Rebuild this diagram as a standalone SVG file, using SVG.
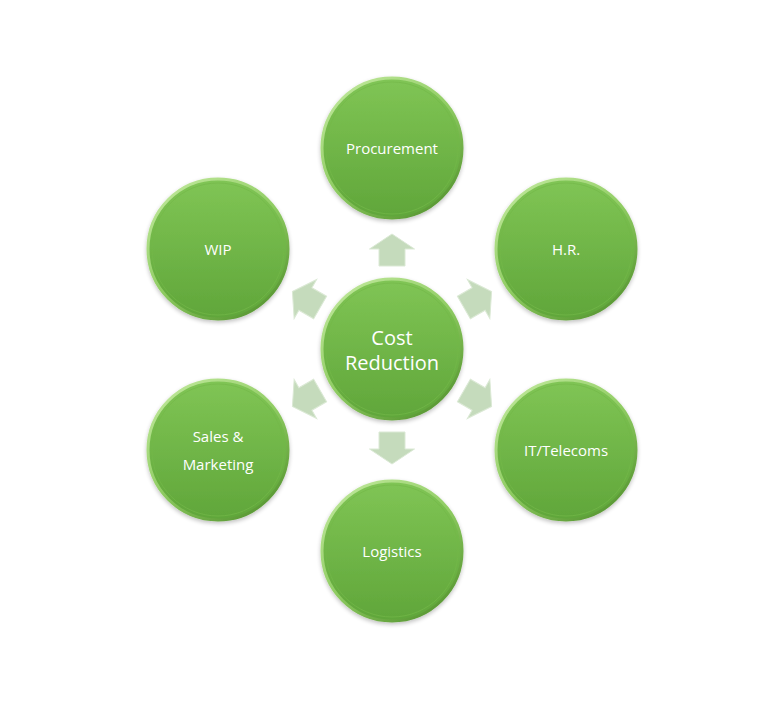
<svg xmlns="http://www.w3.org/2000/svg" width="759" height="726" viewBox="0 0 759 726">
<defs>
<linearGradient id="fillG" x1="0" y1="0" x2="0" y2="1">
<stop offset="0" stop-color="#80c555"/>
<stop offset="1" stop-color="#60a63a"/>
</linearGradient>
<linearGradient id="rimG" x1="0.2" y1="0.1" x2="0.8" y2="0.9">
<stop offset="0" stop-color="#b7e391"/>
<stop offset="0.5" stop-color="#8fcc62"/>
<stop offset="1" stop-color="#5d9c37"/>
</linearGradient>
<filter id="sh" x="-20%" y="-20%" width="140%" height="140%">
<feGaussianBlur in="SourceAlpha" stdDeviation="2"/>
<feOffset dx="0" dy="2"/>
<feComponentTransfer><feFuncA type="linear" slope="0.25"/></feComponentTransfer>
<feMerge><feMergeNode/><feMergeNode in="SourceGraphic"/></feMerge>
</filter>
<path id="arr" d="M0,-115 L22.5,-100 L13,-100 L13,-83 L-13,-83 L-13,-100 L-22.5,-100 Z"/>
</defs>
<style>
.disc{fill:url(#fillG);stroke:url(#rimG);stroke-width:3;filter:url(#sh)}
.inner{fill:none;stroke:#74b849;stroke-width:1;opacity:0.7}
.lbl{font-family:"Open Sans","Noto Sans",sans-serif;font-size:15px;fill:#ffffff;text-anchor:middle;dominant-baseline:central}
.big{font-size:20px}
.a{fill:#c5dbbc;stroke:#dbe9d5;stroke-width:1}
</style>
<rect width="759" height="726" fill="#ffffff"/>
<g id="connectors" transform="translate(392,349)">
<use href="#arr" class="a"/>
<use href="#arr" class="a" transform="rotate(60)"/>
<use href="#arr" class="a" transform="rotate(120)"/>
<use href="#arr" class="a" transform="rotate(180)"/>
<use href="#arr" class="a" transform="rotate(240)"/>
<use href="#arr" class="a" transform="rotate(300)"/>
</g>
<g id="center">
<circle class="disc" cx="392" cy="349" r="70"/>
<circle class="inner" cx="392" cy="349" r="66"/>
<text class="lbl big" x="392" y="337">Cost</text>
<text class="lbl big" x="392" y="362">Reduction</text>
</g>
<g id="procurement">
<circle class="disc" cx="392" cy="148" r="70"/>
<circle class="inner" cx="392" cy="148" r="66"/>
<text class="lbl" x="392" y="148">Procurement</text>
</g>
<g id="hr">
<circle class="disc" cx="566" cy="249" r="70"/>
<circle class="inner" cx="566" cy="249" r="66"/>
<text class="lbl" x="566" y="249">H.R.</text>
</g>
<g id="it">
<circle class="disc" cx="566" cy="450" r="70"/>
<circle class="inner" cx="566" cy="450" r="66"/>
<text class="lbl" x="566" y="450">IT/Telecoms</text>
</g>
<g id="logistics">
<circle class="disc" cx="392" cy="551" r="70"/>
<circle class="inner" cx="392" cy="551" r="66"/>
<text class="lbl" x="392" y="551">Logistics</text>
</g>
<g id="sales">
<circle class="disc" cx="218" cy="450" r="70"/>
<circle class="inner" cx="218" cy="450" r="66"/>
<text class="lbl" x="218" y="436">Sales &amp;</text>
<text class="lbl" x="218" y="464">Marketing</text>
</g>
<g id="wip">
<circle class="disc" cx="218" cy="249" r="70"/>
<circle class="inner" cx="218" cy="249" r="66"/>
<text class="lbl" x="218" y="249">WIP</text>
</g>
</svg>
